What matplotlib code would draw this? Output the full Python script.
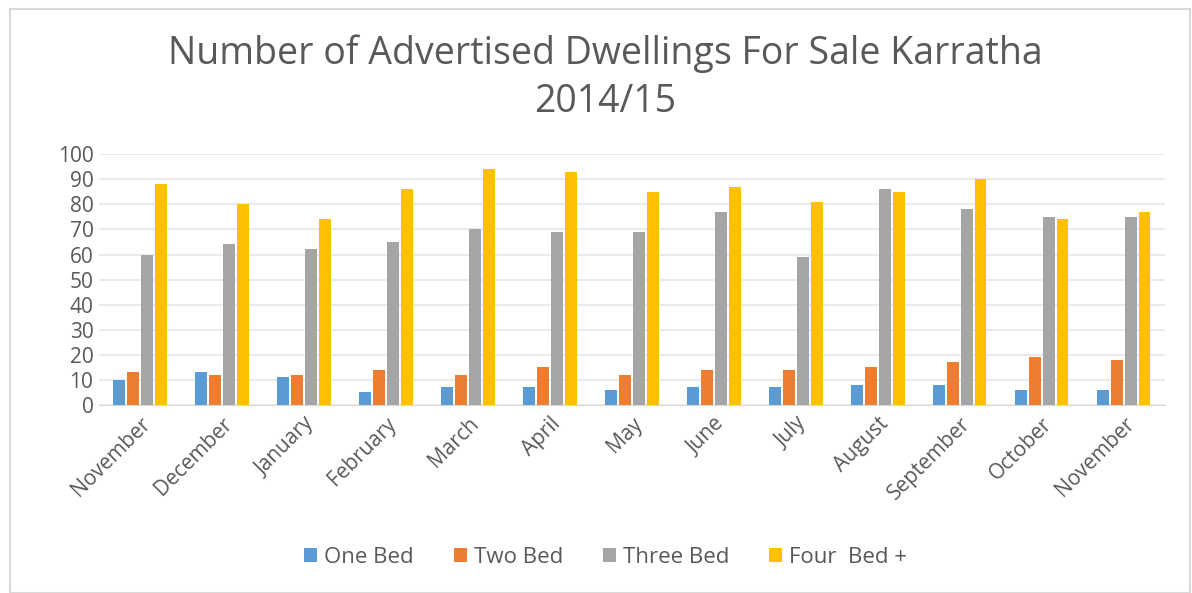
import numpy as np
import matplotlib.pyplot as plt
from matplotlib.patches import Rectangle

months = ["November", "December", "January", "February", "March", "April", "May",
          "June", "July", "August", "September", "October", "November"]
one_bed = [10, 13, 11, 5, 7, 7, 6, 7, 7, 8, 8, 6, 6]
two_bed = [13, 12, 12, 14, 12, 15, 12, 14, 14, 15, 17, 19, 18]
three_bed = [60, 64, 62, 65, 70, 69, 69, 77, 59, 86, 78, 75, 75]
four_bed = [88, 80, 74, 86, 94, 93, 85, 87, 81, 85, 90, 74, 77]

series = [("One Bed", one_bed, "#5b9bd5"),
          ("Two Bed", two_bed, "#ed7d31"),
          ("Three Bed", three_bed, "#a5a5a5"),
          ("Four  Bed +", four_bed, "#ffc000")]

plt.rcParams['font.family'] = ['Open Sans', 'DejaVu Sans']
text_col = "#595959"

fig = plt.figure(figsize=(11.92, 5.93), dpi=100)
fig.patches.append(Rectangle((0.008, 0.0), 0.99, 0.985, transform=fig.transFigure,
                             fill=False, edgecolor="#d9d9d9", linewidth=1.5))
ax = fig.add_axes([0.083, 0.317, 0.894, 0.423])

x = np.arange(len(months))
w = 0.145
step = 0.17
for i, (name, vals, col) in enumerate(series):
    ax.bar(x + (i - 1.5) * step, vals, w, color=col, label=name, zorder=3)

ax.set_ylim(0, 100)
ax.set_yticks(range(0, 101, 10))
ax.set_xlim(-0.5, len(months) - 0.5)
ax.set_xticks(x)
ax.set_xticklabels(months, rotation=45, ha="right", rotation_mode="anchor")
ax.grid(axis="y", color="#e6e6e6", linewidth=1.2, zorder=0)
for s in ["top", "right", "left"]:
    ax.spines[s].set_visible(False)
ax.spines["bottom"].set_color("#d9d9d9")
ax.tick_params(axis="both", length=0, labelsize=15, colors=text_col)
ax.tick_params(axis="y", pad=4)
ax.tick_params(axis="x", pad=6)

fig.text(0.508, 0.91, "Number of Advertised Dwellings For Sale Karratha",
         ha="center", va="center", fontsize=27, color=text_col)
fig.text(0.508, 0.828, "2014/15", ha="center", va="center", fontsize=27, color=text_col)

fig.legend(loc="center", bbox_to_anchor=(0.508, 0.06), ncol=4, frameon=False,
           fontsize=16, labelcolor=text_col, handlelength=0.6, handleheight=0.6,
           handletextpad=0.3, columnspacing=1.8)

fig.savefig("out.png", dpi=100)
